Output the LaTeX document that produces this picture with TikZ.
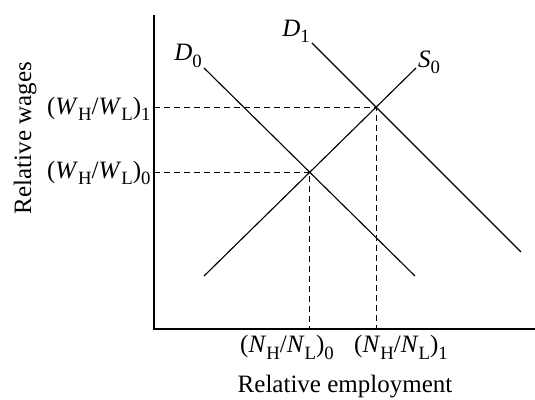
\documentclass[tikz,border=0pt]{standalone}
\usepackage{fontspec}
\setmainfont{Liberation Serif}
\usetikzlibrary{calc,intersections}
\newcommand{\lo}[1]{\raisebox{-0.55ex}{\fontsize{7.5}{8}\selectfont #1}}

\begin{document}
\begin{tikzpicture}[x=0.4pt,y=-0.4pt,
  curve/.style={line width=0.45pt},
  guide/.style={line width=0.45pt,dash pattern=on 2.4pt off 1.6pt},
  lab/.style={inner sep=0pt}]
\useasboundingbox (0,0) rectangle (535,400);
% axes
\coordinate (O) at (154,329);
\coordinate (ytop) at (154,15);
\coordinate (xend) at (535,329);
\draw[line width=0.7pt] (ytop) -- (O) -- (xend);
% demand and supply
\coordinate (d0a) at (204,68);  \coordinate (d0b) at (415,276);
\coordinate (d1a) at (312,43);  \coordinate (d1b) at (521,252);
\coordinate (s0a) at (204,276); \coordinate (s0b) at (416,68);
\draw[curve,name path=dzero] (d0a) -- (d0b);
\draw[curve,name path=done] (d1a) -- (d1b);
\draw[curve,name path=szero] (s0a) -- (s0b);
\path[name intersections={of=dzero and szero,by=E0}];
\path[name intersections={of=done and szero,by=E1}];
\draw[guide] (E0 -| O) -- (E0) -- (E0 |- O);
\draw[guide] (E1 -| O) -- (E1) -- (E1 |- O);
\node[lab] (dzlab) at (188,56) {\textit{D}\lo{0}};
\node[lab] (dolab) at (296,31) {\textit{D}\lo{1}};
\node[lab] (szlab) at (429,62) {\textit{S}\lo{0}};
% axis labels
\node[lab,anchor=base east] (w1) at (151,114) {(\textit{W}\lo{H}/\textit{W}\lo{L})\lo{1}};
\node[lab,anchor=base east] (w0) at (151,178) {(\textit{W}\lo{H}/\textit{W}\lo{L})\lo{0}};
\node[lab,anchor=base] (n0) at (287,353) {(\textit{N}\lo{H}/\textit{N}\lo{L})\lo{0}};
\node[lab,anchor=base] (n1) at (401,353) {(\textit{N}\lo{H}/\textit{N}\lo{L})\lo{1}};
\node[lab,anchor=base] (xlab) at (345,392) {Relative employment};
\node[lab,anchor=base,rotate=90] (ylab) at (31,138) {Relative wages};
\end{tikzpicture}
\end{document}
